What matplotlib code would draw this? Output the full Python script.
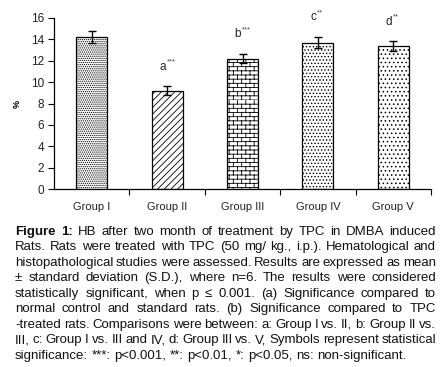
import warnings
import numpy as np
import matplotlib
matplotlib.use('Agg')
import matplotlib.pyplot as plt
import matplotlib.hatch as mhatch
from matplotlib.path import Path

warnings.simplefilter('ignore')

groups = ['Group I', 'Group II', 'Group III', 'Group IV', 'Group V']
hb = [14.25, 9.2, 12.2, 13.7, 13.4]
sd = [0.55, 0.4, 0.45, 0.55, 0.45]
sig_letter = ['', 'a', 'b', 'c', 'd']
sig_stars = ['', '***', '***', '**', '**']
hatches = ['........', '/////', 'b', '.....', '....']

caption = [
    'Figure 1: HB after two month of treatment by TPC in DMBA induced',
    'Rats. Rats were treated with TPC (50 mg/ kg., i.p.). Hematological and',
    'histopathological studies were assessed. Results are expressed as mean',
    '\u00b1 standard deviation (S.D.), where n=6. The results were considered',
    'statistically significant, when p \u2264 0.001. (a) Significance compared to',
    'normal control and standard rats. (b) Significance compared to TPC',
    '-treated rats. Comparisons were between: a: Group I vs. II, b: Group II vs.',
    'III, c: Group I vs. III and IV, d: Group III vs. V, Symbols represent statistical',
    'significance: ***: p<0.001, **: p<0.01, *: p<0.05, ns: non-significant.',
]


class BrickHatch(mhatch.HatchPatternBase):
    # brick wall fill, selected with 'b'
    def __init__(self, hatch, density):
        self.rows = hatch.count('b') * density * 4
        self.cols = self.rows // 2
        self.num_vertices = (self.rows + self.rows * self.cols) * 2

    def set_vertices_and_codes(self, vertices, codes):
        h = 1.0 / self.rows
        w = 1.0 / self.cols
        v = []
        for i in range(self.rows):
            y0 = i * h
            v += [(0.0, y0), (1.0, y0)]
            off = 0.0 if i % 2 == 0 else w / 2
            for k in range(self.cols):
                xx = k * w + off
                v += [(xx, y0), (xx, y0 + h)]
        vertices[:] = np.array(v)
        codes[0::2] = Path.MOVETO
        codes[1::2] = Path.LINETO


mhatch._hatch_types.append(BrickHatch)

plt.rcParams['font.family'] = ['Liberation Sans', 'DejaVu Sans']
plt.rcParams['hatch.linewidth'] = 0.6

W, H = 443, 367
fig = plt.figure(figsize=(W / 100, H / 100), dpi=100)
ax = fig.add_axes([54 / W, 1 - 189 / H, (431 - 54) / W, (189 - 18) / H])

x = np.arange(len(groups))
ax.bar(x, hb, width=0.41, color='white', edgecolor='black', linewidth=0.9,
       hatch=hatches, zorder=2)
ax.errorbar(x, hb, yerr=sd, fmt='none', ecolor='black', elinewidth=1,
            capsize=2.6, capthick=1, zorder=3)

for xi, v, e, l, s in zip(x, hb, sd, sig_letter, sig_stars):
    if not l:
        continue
    ax.annotate(l, (xi, v + e), xytext=(-1, 14), textcoords='offset points',
                ha='right', va='center', fontsize=8.5, color='#222222',
                annotation_clip=False)
    ax.annotate(s, (xi, v + e), xytext=(-0.5, 17.5), textcoords='offset points',
                ha='left', va='center', fontsize=5.5, color='#444444',
                annotation_clip=False)

ax.set_xlim(-0.5, len(groups) - 0.5)
ax.set_ylim(0, 16)
ax.set_yticks(np.arange(0, 17, 2))
ax.set_xticks(np.arange(0.5, len(groups), 1))
ax.set_xticklabels([])
ax.set_xticks(x, minor=True)
ax.set_xticklabels(groups, minor=True)
ax.tick_params(axis='x', which='major', length=4, width=0.8, direction='out')
ax.tick_params(axis='x', which='minor', length=0, pad=9, labelsize=8,
               labelcolor='#222222')
ax.tick_params(axis='y', length=4, width=0.8, pad=3, labelsize=8.5,
               labelcolor='#222222')
for side in ['top', 'right']:
    ax.spines[side].set_visible(False)
for side in ['left', 'bottom']:
    ax.spines[side].set_linewidth(0.9)
ax.set_ylabel('%', fontsize=6.5, fontweight='bold', labelpad=7)

# justified caption
r = fig.canvas.get_renderer()
left, right = 15, 436
base = 235.0
step = 15.45
fs = 9.5
for i, line in enumerate(caption):
    words = line.split(' ')
    texts = []
    for j, w in enumerate(words):
        bold = (i == 0 and j < 2)
        t = fig.text(0, 0, w, fontsize=fs, fontweight='bold' if bold else 'normal',
                     color='#111111', ha='left', va='baseline')
        texts.append(t)
    widths = [t.get_window_extent(renderer=r).width for t in texts]
    if i < len(caption) - 1:
        gap = (right - left - sum(widths)) / (len(words) - 1)
    else:
        sp = fig.text(0, 0, 'a a', fontsize=fs)
        sp2 = fig.text(0, 0, 'aa', fontsize=fs)
        gap = sp.get_window_extent(renderer=r).width - sp2.get_window_extent(renderer=r).width
        sp.remove()
        sp2.remove()
    xpos = left
    y = base + step * i
    for t, wd in zip(texts, widths):
        t.set_position((xpos / W, 1 - y / H))
        xpos += wd + gap

fig.savefig('out.png', dpi=100)
